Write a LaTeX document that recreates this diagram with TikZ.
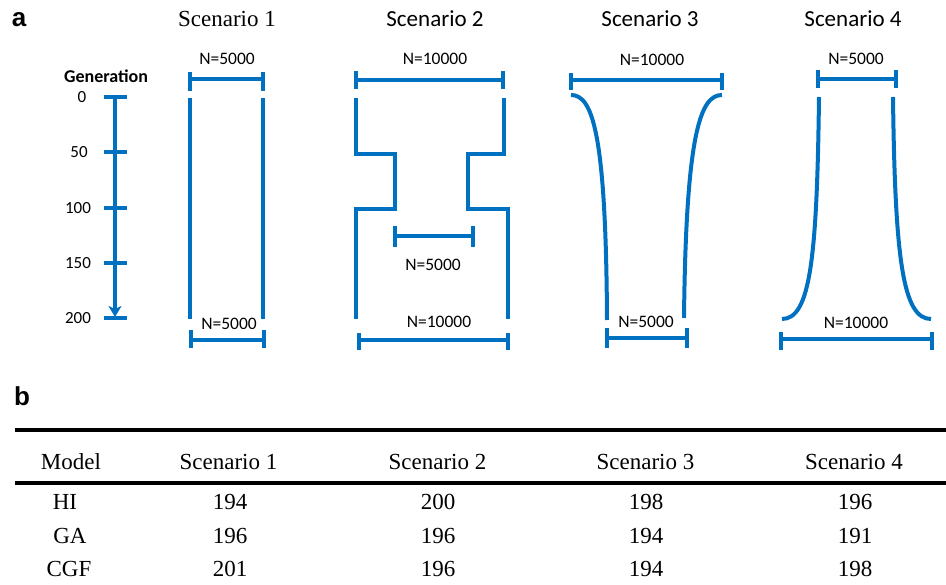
\documentclass[tikz,border=0pt]{standalone}
\usepackage{fontspec}
\setmainfont{Liberation Serif}
\newfontfamily\calibri{Carlito}
\newfontfamily\panelfont{Liberation Sans}
\usetikzlibrary{arrows.meta}
\definecolor{popblue}{RGB}{0,112,192}

% horizontal population-size bar with end ticks: {x1}{x2}{y}{tick top}{tick bottom}
\newcommand\popbar[5]{%
  \draw[wall] (#1,#3) -- (#2,#3);
  \draw[wall] (#1,#4) -- (#1,#5);
  \draw[wall] (#2,#4) -- (#2,#5);
}

\begin{document}
\begin{tikzpicture}[x=1pt,y=-1pt,
  wall/.style={draw=popblue,line width=4pt},
  panel/.style={font=\panelfont\bfseries\fontsize{26}{30}\selectfont,inner sep=0pt},
  sctitle/.style={font=\calibri\fontsize{23}{26}\selectfont,inner sep=0pt},
  nlabel/.style={font=\calibri\fontsize{17.5}{20}\selectfont,inner sep=0pt},
  gen/.style={font=\calibri\fontsize{17}{20}\selectfont,inner sep=0pt},
  cell/.style={font=\fontsize{23}{26}\selectfont,inner sep=0pt},
  rule/.style={draw=black,line width=3.5pt}]
\useasboundingbox (0,0) rectangle (946,585);

% ---------- panel a ----------
\node[panel] (pa) at (19,20) {a};

\node[font=\fontsize{23}{26}\selectfont,inner sep=0pt] (t1) at (227,19) {Scenario 1};
\node[sctitle] (t2) at (435,19) {Scenario 2};
\node[sctitle] (t3) at (650,19) {Scenario 3};
\node[sctitle] (t4) at (853,19) {Scenario 4};

% generation axis
\node[font=\calibri\bfseries\fontsize{18}{20}\selectfont,inner sep=0pt] (glab) at (106,76) {Generation};
\node[gen] (g0) at (82,97.5) {0};
\node[gen] (g50) at (79,152) {50};
\node[gen] (g100) at (78,208) {100};
\node[gen] (g150) at (78,263) {150};
\node[gen] (g200) at (78,318) {200};
\coordinate (atop) at (115,97);
\coordinate (abot) at (115,317);
\draw[wall,-{Stealth[length=11pt,width=13pt,inset=3pt]}] (atop) -- (abot);
\foreach \yy in {97,152,208,263,318}
  \draw[wall] (104,\yy) -- (127,\yy);

% scenario 1: constant size
\node[nlabel] (s1top) at (227,59) {N=5000};
\popbar{190}{263}{79}{72}{91}
\draw[wall] (190,98) -- (190,319);
\draw[wall] (263,98) -- (263,319);
\node[nlabel] (s1bot) at (229,324) {N=5000};
\popbar{191}{264}{340}{330}{348}

% scenario 2: bottleneck
\node[nlabel] (s2top) at (435,59) {N=10000};
\popbar{356}{503}{80}{71}{89}
\draw[wall] (356,98) -- (356,154) -- (395,154) -- (395,209) -- (356,209) -- (356,319);
\draw[wall] (504,98) -- (504,154) -- (467.5,154) -- (467.5,209) -- (508,209) -- (508,319);
\popbar{395}{473}{236}{226}{247}
\node[nlabel] (s2mid) at (433,265) {N=5000};
\node[nlabel] (s2bot) at (439,322) {N=10000};
\popbar{359}{508}{340}{333}{350}

% scenario 3: decline
\node[nlabel] (s3top) at (652,60) {N=10000};
\popbar{571}{722}{80}{73}{90}
\draw[wall] (571,95) .. controls (592,95) and (606,130) .. (607,320);
\draw[wall] (722,95) .. controls (701,95) and (686,130) .. (684,318);
\node[nlabel] (s3bot) at (646,322) {N=5000};
\popbar{607}{687}{338}{328}{348}

% scenario 4: expansion
\node[nlabel] (s4top) at (856,59) {N=5000};
\popbar{818}{896}{79}{70}{88}
\draw[wall] (819,97) .. controls (817,260) and (810,319) .. (782,319);
\draw[wall] (893,97) .. controls (895,260) and (903,319) .. (931,319);
\node[nlabel] (s4bot) at (856,323) {N=10000};
\popbar{781}{932}{339}{332}{350}

% ---------- panel b ----------
\node[panel] (pb) at (22,396) {b};
\draw[rule] (15,430) -- (946,430);
\draw[rule] (15,483) -- (946,483);

\node[cell] (hm)  at (71,462)  {Model};
\node[cell] (h1)  at (228.5,462) {Scenario 1};
\node[cell] (h2)  at (437.5,462) {Scenario 2};
\node[cell] (h3)  at (645.5,462) {Scenario 3};
\node[cell] (h4)  at (854,462) {Scenario 4};

\node[cell] (rHI)  at (65,502) {HI};
\node[cell] (rGA)  at (70,536) {GA};
\node[cell] (rCGF) at (69,569) {CGF};

\node[cell] (c11) at (230,502) {194};
\node[cell] (c12) at (438,502) {200};
\node[cell] (c13) at (646,502) {198};
\node[cell] (c14) at (855,502) {196};

\node[cell] (c21) at (230,536) {196};
\node[cell] (c22) at (438,536) {196};
\node[cell] (c23) at (646,536) {194};
\node[cell] (c24) at (855,536) {191};

\node[cell] (c31) at (230,569) {201};
\node[cell] (c32) at (438,569) {196};
\node[cell] (c33) at (646,569) {194};
\node[cell] (c34) at (855,569) {198};
\end{tikzpicture}
\end{document}
